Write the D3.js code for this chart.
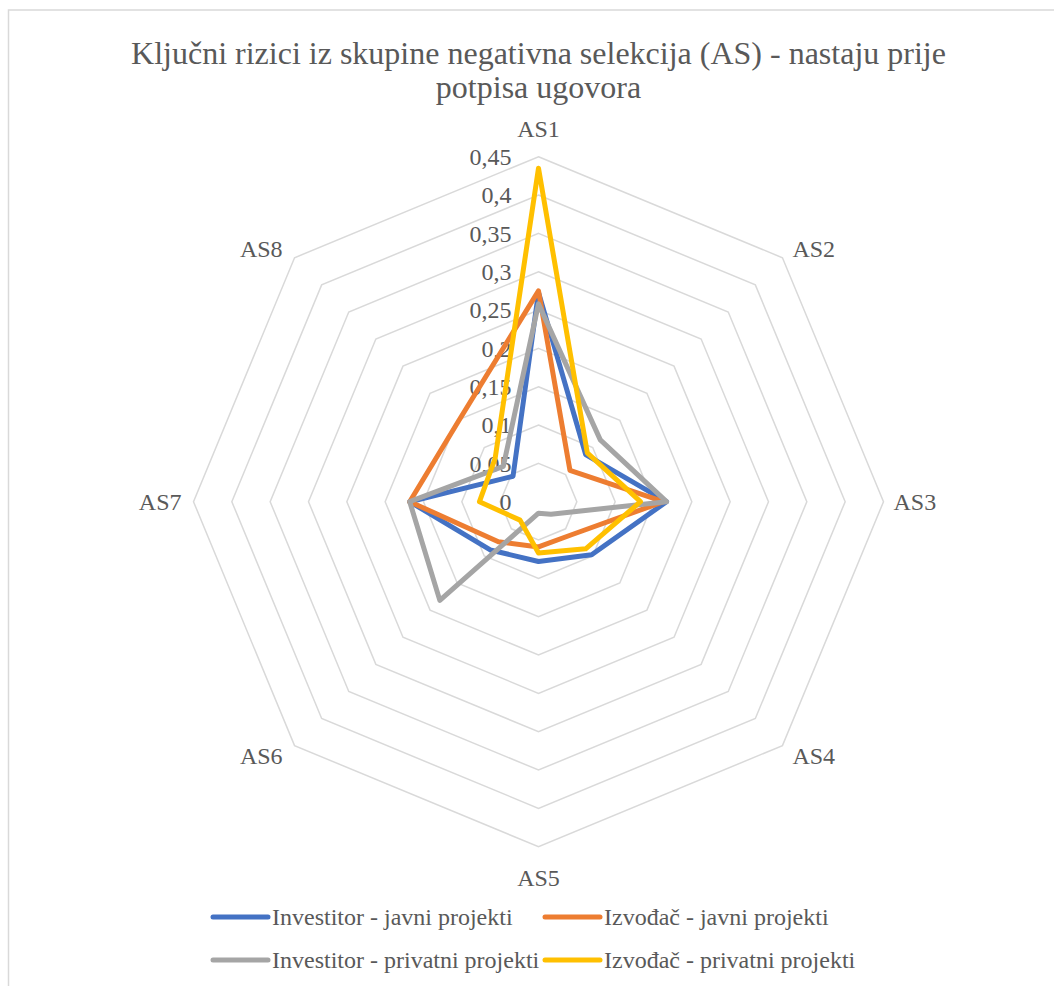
<!DOCTYPE html>
<html>
<head>
<meta charset="utf-8">
<script src="https://cdnjs.cloudflare.com/ajax/libs/d3/7.8.5/d3.min.js"></script>
<style>
    body { margin: 0; background: #ffffff; }
</style>
</head>
<body>
<div id="radar"></div>
<script>
// Chart data
var categories = ["AS1", "AS2", "AS3", "AS4", "AS5", "AS6", "AS7", "AS8"];
var seriesNames = ["Investitor - javni projekti", "Izvođač - javni projekti",
    "Investitor - privatni projekti", "Izvođač - privatni projekti"];
var investitorJavni = [0.273, 0.087, 0.167, 0.098, 0.078, 0.089, 0.168, 0.047];
var izvodjacJavni = [0.275, 0.058, 0.163, 0.061, 0.059, 0.074, 0.168, 0.148];
var investitorPrivatni = [0.258, 0.114, 0.167, 0.023, 0.015, 0.182, 0.168, 0.065];
var izvodjacPrivatni = [0.435, 0.090, 0.133, 0.087, 0.067, 0.034, 0.077, 0.080];
var tickValues = [0, 0.05, 0.1, 0.15, 0.2, 0.25, 0.3, 0.35, 0.4, 0.45];
var tickLabels = ["0", "0,05", "0,1", "0,15", "0,2", "0,25", "0,3", "0,35", "0,4", "0,45"];
var colors = ["#4472C4", "#ED7D31", "#A5A5A5", "#FFC000"];

var allSeries = [investitorJavni, izvodjacJavni, investitorPrivatni, izvodjacPrivatni];

var fontFamily = "'Liberation Serif', 'Times New Roman', serif";
var textColor = "#595959";

// svg container dimensions
var svgWidth = 1054;
var svgHeight = 986;

var cx = 538.5;
var cy = 501.7;
var radius = 345;

var svg = d3.select("#radar")
    .append("svg")
    .attr("width", svgWidth)
    .attr("height", svgHeight);

// Chart area border (cut off at the right and bottom)
svg.append("rect")
    .attr("x", 8.5)
    .attr("y", 10)
    .attr("width", 1200)
    .attr("height", 1200)
    .attr("fill", "none")
    .attr("stroke", "#d9d9d9")
    .attr("stroke-width", 1.5);

// Title
var title = svg.append("text")
    .attr("text-anchor", "middle")
    .attr("font-family", fontFamily)
    .attr("fill", textColor)
    .attr("font-size", 32);
title.append("tspan").attr("x", cx).attr("y", 64)
    .text("Ključni rizici iz skupine negativna selekcija (AS) - nastaju prije");
title.append("tspan").attr("x", cx).attr("y", 98)
    .text("potpisa ugovora");

var chartGroup = svg.append("g")
    .attr("transform", `translate(${cx}, ${cy})`);

// Radial scale and angle scale
var rScale = d3.scaleLinear()
    .domain([0, 0.45])
    .range([0, radius]);

var angle = d3.scaleLinear()
    .domain([0, categories.length])
    .range([0, 2 * Math.PI]);

var radarLine = d3.lineRadial()
    .angle((d, i) => angle(i))
    .radius(d => rScale(d))
    .curve(d3.curveLinearClosed);

// Grid rings
chartGroup.selectAll(".ring")
    .data(tickValues.slice(1))
    .enter()
    .append("path")
    .attr("class", "ring")
    .attr("d", v => radarLine(categories.map(() => v)))
    .attr("fill", "none")
    .attr("stroke", "#d9d9d9")
    .attr("stroke-width", 1.5);

// Tick labels along the AS1 axis
chartGroup.selectAll(".tick-label")
    .data(tickValues)
    .enter()
    .append("text")
    .attr("class", "tick-label")
    .attr("x", -27)
    .attr("y", v => -rScale(v))
    .attr("dy", "0.35em")
    .attr("text-anchor", "end")
    .attr("font-family", fontFamily)
    .attr("fill", textColor)
    .attr("font-size", 24)
    .text((v, i) => tickLabels[i]);

// Category labels
chartGroup.selectAll(".cat-label")
    .data(categories)
    .enter()
    .append("text")
    .attr("class", "cat-label")
    .attr("x", (d, i) => {
        var s = Math.sin(angle(i));
        var off = s > 0.1 ? 10 : (s < -0.1 ? -12 : 0);
        return s * radius + off;
    })
    .attr("y", (d, i) => {
        var c = Math.cos(angle(i));
        var off = c > 0.9 ? -28 : (c < -0.9 ? 31 : (c > 0.1 ? -9 : (c < -0.1 ? 10 : 0)));
        return -c * radius + off;
    })
    .attr("dy", "0.35em")
    .attr("text-anchor", (d, i) => {
        var s = Math.sin(angle(i));
        return s > 0.1 ? "start" : (s < -0.1 ? "end" : "middle");
    })
    .attr("font-family", fontFamily)
    .attr("fill", textColor)
    .attr("font-size", 24)
    .text(d => d);

// Series lines
chartGroup.selectAll(".series")
    .data(allSeries)
    .enter()
    .append("path")
    .attr("class", "series")
    .attr("d", d => radarLine(d))
    .attr("fill", "none")
    .attr("stroke", (d, i) => colors[i])
    .attr("stroke-width", 5)
    .attr("stroke-linejoin", "round");

// Legend
var legendPos = [[213, 917], [545, 917], [213, 960], [545, 960]];

var legend = svg.selectAll(".legend")
    .data(seriesNames)
    .enter()
    .append("g")
    .attr("class", "legend")
    .attr("transform", (d, i) => `translate(${legendPos[i][0]}, ${legendPos[i][1]})`);

legend.append("line")
    .attr("x1", 0)
    .attr("x2", 55)
    .attr("y1", 0)
    .attr("y2", 0)
    .attr("stroke", (d, i) => colors[i])
    .attr("stroke-width", 5)
    .attr("stroke-linecap", "round");

legend.append("text")
    .attr("x", 59)
    .attr("y", 0)
    .attr("dy", "0.35em")
    .attr("font-family", fontFamily)
    .attr("fill", textColor)
    .attr("font-size", 24)
    .text(d => d);
</script>
</body>
</html>
